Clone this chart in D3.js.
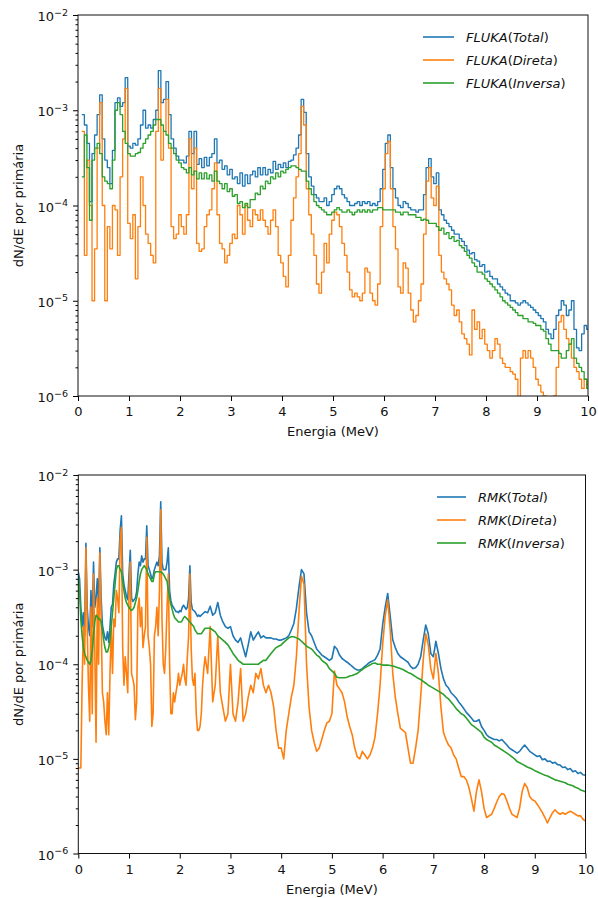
<!DOCTYPE html>
<html>
<head>
<meta charset="utf-8">
<script src="https://cdn.jsdelivr.net/npm/d3@7"></script>
<style>
  body { margin: 0; background: #fff; }
  svg { display: block; font-family: 'DejaVu Sans', sans-serif; }
</style>
</head>
<body>
<svg></svg>
<script>
// ---- FLUKA histogram: 199 bins of 0.05 MeV, centres 0.10 ... 10.00 MeV
let flukaBinStart = 0.075
let flukaBinWidth = 0.05

let flukaTotal = [
  9e-4, 7e-4, 4.5e-4, 1.1e-4, 3.5e-4, 5.5e-4, 9e-4, 1.45e-3, 5e-4, 3e-4,
  2.5e-4, 1.7e-4, 3.8e-4, 1.2e-3, 1.35e-3, 1.1e-3, 1.2e-3, 2.2e-3, 4.2e-4, 4e-4,
  4.5e-4, 4.3e-4, 5e-4, 7e-4, 1e-3, 6.5e-4, 7e-4, 6.5e-4, 8e-4, 1e-3,
  2.6e-3, 1.2e-3, 1.3e-3, 2e-3, 9e-4, 5e-4, 4e-4, 3.3e-4, 3e-4, 3e-4,
  2.8e-4, 3.3e-4, 6e-4, 3.5e-4, 6e-4, 2.7e-4, 3.1e-4, 2.5e-4, 3.2e-4, 2.6e-4,
  3.2e-4, 3.5e-4, 5e-4, 2.8e-4, 3e-4, 2.4e-4, 2.6e-4, 2.1e-4, 2.4e-4, 1.9e-4,
  2e-4, 1.7e-4, 2.2e-4, 1.6e-4, 2.1e-4, 1.7e-4, 2.1e-4, 2.3e-4, 2e-4, 2.5e-4,
  2.1e-4, 2.5e-4, 2.1e-4, 2.4e-4, 2.2e-4, 2.9e-4, 2.4e-4, 2.7e-4, 2.5e-4, 2.8e-4,
  2.5e-4, 2.9e-4, 3e-4, 3.4e-4, 4e-4, 5.5e-4, 1.3e-3, 9.5e-4, 3.5e-4, 2e-4,
  1.6e-4, 1.3e-4, 1.2e-4, 1.1e-4, 1.1e-4, 1.2e-4, 1e-4, 1.1e-4, 1.3e-4, 1.5e-4,
  1.6e-4, 1.5e-4, 1.3e-4, 1.2e-4, 1.1e-4, 1e-4, 1e-4, 1.05e-4, 1.1e-4, 1e-4,
  1.1e-4, 1.05e-4, 1.1e-4, 1e-4, 1.05e-4, 1e-4, 1.1e-4, 1.5e-4, 2.4e-4, 4.5e-4,
  5.5e-4, 2.5e-4, 1.5e-4, 1.2e-4, 1e-4, 9.5e-5, 1.1e-4, 1.05e-4, 9.5e-5, 9e-5,
  9e-5, 8.5e-5, 9e-5, 9e-5, 1.3e-4, 2.5e-4, 3.1e-4, 2e-4, 1.7e-4, 2.2e-4,
  9e-5, 8e-5, 7e-5, 6.5e-5, 6e-5, 5.5e-5, 5e-5, 5e-5, 4.5e-5, 4.2e-5,
  3.8e-5, 3.4e-5, 3.1e-5, 3.2e-5, 2.7e-5, 2.6e-5, 2.3e-5, 2.4e-5, 2e-5, 2.05e-5,
  1.8e-5, 1.7e-5, 1.7e-5, 1.5e-5, 1.4e-5, 1.3e-5, 1.2e-5, 1.15e-5, 1e-5, 1e-5,
  9.5e-6, 9e-6, 9.5e-6, 1e-5, 9.5e-6, 9e-6, 8.5e-6, 8e-6, 7.5e-6, 7e-6,
  6.5e-6, 6e-6, 5e-6, 4.5e-6, 4e-6, 5e-6, 7e-6, 8e-6, 1e-5, 9e-6,
  7e-6, 8e-6, 1e-5, 5e-6, 3.2e-6, 3e-6, 4.5e-6, 5.5e-6, 5e-6
]

let flukaDireta = [
  6e-4, 3e-5, 3e-4, 1e-4, 1e-5, 3.5e-5, 4e-4, 1.2e-3, 1e-4, 1e-5,
  6e-5, 3.5e-5, 1e-4, 9e-5, 3e-5, 2e-4, 5e-4, 1.7e-3, 6.5e-5, 4.5e-5,
  8e-5, 1.7e-5, 6e-5, 2e-4, 1e-4, 5e-5, 4e-5, 3e-5, 2.5e-5, 6e-4,
  1.7e-3, 3e-4, 6e-4, 1.3e-3, 4e-4, 6e-5, 4.5e-5, 5e-5, 8e-5, 6e-5,
  5e-5, 8e-5, 5e-4, 1.5e-4, 4e-4, 4e-5, 3.3e-5, 3.5e-5, 6e-5, 8e-5,
  9e-5, 1.5e-4, 2.8e-4, 8e-5, 4e-5, 3.5e-5, 2.5e-5, 3e-5, 4e-5, 5e-5,
  4.5e-5, 1e-4, 8e-5, 5e-5, 1e-4, 7e-5, 6e-5, 9e-5, 8e-5, 7e-5,
  9e-5, 7e-5, 6e-5, 5e-5, 7e-5, 9e-5, 6e-5, 3e-5, 2.5e-5, 1.8e-5,
  1.4e-5, 3e-5, 7e-5, 1.2e-4, 2e-4, 3.5e-4, 1.1e-3, 7e-4, 1.5e-4, 8e-5,
  5e-5, 3e-5, 1.5e-5, 1.2e-5, 2e-5, 4e-5, 2.5e-5, 5e-5, 7e-5, 8.5e-5,
  8e-5, 6e-5, 4e-5, 3e-5, 2e-5, 1.3e-5, 1.1e-5, 1.2e-5, 1.1e-5, 1e-5,
  1.2e-5, 2.2e-5, 2e-5, 1.2e-5, 1e-5, 9e-6, 1.5e-5, 6e-5, 1.5e-4, 3.5e-4,
  4.7e-4, 1.5e-4, 6e-5, 3.5e-5, 1.4e-5, 1.2e-5, 2.5e-5, 2.2e-5, 1.2e-5, 8e-6,
  6e-6, 7e-6, 1e-5, 1.5e-5, 5e-5, 1.8e-4, 2.5e-4, 1.2e-4, 1e-4, 1.6e-4,
  3e-5, 2e-5, 1.7e-5, 1.5e-5, 1.3e-5, 9e-6, 7e-6, 8e-6, 6e-6, 4.5e-6,
  4e-6, 3.5e-6, 2.7e-6, 8e-6, 5e-6, 6e-6, 4e-6, 5e-6, 3.5e-6, 3e-6,
  2.5e-6, 3e-6, 4e-6, 3.5e-6, 2.5e-6, 2.2e-6, 2e-6, 2e-6, 1.8e-6, 1.7e-6,
  1.5e-6, 9e-7, 2.5e-6, 3e-6, 2.5e-6, 3e-6, 2.5e-6, 2e-6, 1.5e-6, 1.3e-6,
  1.1e-6, 1e-6, 9e-7, 8e-7, 8e-7, 1e-6, 2e-6, 6e-6, 7e-6, 5e-6,
  4e-6, 3.5e-6, 2.5e-6, 2e-6, 1.8e-6, 1.5e-6, 1.2e-6, 1.5e-6, 1.3e-6
]

let flukaInversa = [
  2e-4, 5.5e-4, 2.5e-4, 7e-5, 3e-4, 4e-4, 4.5e-4, 3.5e-4, 2e-4, 1.8e-4,
  1.7e-4, 1.5e-4, 3e-4, 1e-3, 1.2e-3, 9e-4, 6e-4, 4.5e-4, 3.5e-4, 3.3e-4,
  3.3e-4, 3.5e-4, 3.6e-4, 4e-4, 4.5e-4, 5e-4, 5.5e-4, 6e-4, 7e-4, 8e-4,
  8e-4, 7e-4, 6e-4, 5.5e-4, 4.5e-4, 4e-4, 3.5e-4, 3e-4, 2.8e-4, 2.5e-4,
  2.4e-4, 2.2e-4, 2.5e-4, 2.1e-4, 2.3e-4, 1.9e-4, 2.2e-4, 1.9e-4, 2.2e-4, 1.9e-4,
  2.1e-4, 1.8e-4, 2.3e-4, 1.8e-4, 1.7e-4, 1.5e-4, 1.7e-4, 1.4e-4, 1.5e-4, 1.25e-4,
  1.3e-4, 1.05e-4, 1.1e-4, 9.5e-5, 1.05e-4, 9.5e-5, 1.15e-4, 1.15e-4, 1.35e-4, 1.3e-4,
  1.6e-4, 1.5e-4, 1.8e-4, 1.7e-4, 2e-4, 1.9e-4, 2.2e-4, 2e-4, 2.3e-4, 2.2e-4,
  2.4e-4, 2.5e-4, 2.6e-4, 2.6e-4, 2.5e-4, 2.4e-4, 2.3e-4, 2.3e-4, 1.8e-4, 1.5e-4,
  1.3e-4, 1.1e-4, 1e-4, 9.5e-5, 9e-5, 8.5e-5, 8e-5, 8e-5, 8.5e-5, 9e-5,
  9.5e-5, 9e-5, 8.5e-5, 8.5e-5, 9e-5, 8.5e-5, 8e-5, 8.5e-5, 9e-5, 8.5e-5,
  9e-5, 8.5e-5, 9e-5, 8.5e-5, 9e-5, 9e-5, 9.5e-5, 9.5e-5, 9e-5, 9e-5,
  9e-5, 9e-5, 9e-5, 8.5e-5, 8.5e-5, 8e-5, 8.5e-5, 8.5e-5, 8e-5, 8e-5,
  8e-5, 7.5e-5, 7.5e-5, 7e-5, 7.2e-5, 7e-5, 6.5e-5, 6.5e-5, 6.5e-5, 6e-5,
  5.5e-5, 5.8e-5, 5e-5, 5.2e-5, 4.5e-5, 4.7e-5, 4.2e-5, 4.3e-5, 3.8e-5, 3.6e-5,
  3.3e-5, 3e-5, 2.8e-5, 2.5e-5, 2.3e-5, 2e-5, 2e-5, 1.9e-5, 1.7e-5, 1.6e-5,
  1.5e-5, 1.4e-5, 1.3e-5, 1.2e-5, 1.1e-5, 1e-5, 9.5e-6, 9e-6, 8.5e-6, 8e-6,
  7.5e-6, 7e-6, 7e-6, 6.5e-6, 6.5e-6, 6e-6, 6e-6, 5.8e-6, 5.5e-6, 5.5e-6,
  5e-6, 4.8e-6, 4e-6, 3.5e-6, 3e-6, 3e-6, 3e-6, 2.8e-6, 2.5e-6, 2.5e-6,
  3e-6, 3.5e-6, 4e-6, 2.5e-6, 2.2e-6, 2e-6, 1.8e-6, 1.5e-6, 1.2e-6
]

// ---- RMK: 100 points every 0.025 MeV (0 ... 2.475), then 151 points every 0.05 MeV (2.5 ... 10)
let rmkFineCount = 100
let rmkFineStep = 0.025
let rmkCoarseCount = 151
let rmkCoarseStep = 0.05

let rmkTotal = [
  9.5e-4, 8e-4, 4e-4, 2.5e-4, 3.5e-4, 2e-4, 1.9e-3, 4e-4, 2.5e-4, 2e-4,
  6e-4, 2.5e-4, 1.2e-3, 4e-4, 5e-4, 8e-4, 4e-4, 1.7e-3, 5e-4, 2.6e-4,
  2.2e-4, 1.9e-4, 1.8e-4, 2.2e-4, 1.7e-4, 2.5e-4, 4e-4, 4.3e-4, 7e-4, 9e-4,
  1.2e-3, 1.3e-3, 1.3e-3, 2.6e-3, 3.7e-3, 9e-4, 7e-4, 6e-4, 5.2e-4, 4.8e-4,
  9e-4, 1.6e-3, 5e-4, 4.6e-4, 4.8e-4, 5e-4, 5.8e-4, 9e-4, 1.2e-3, 1.1e-3,
  1.4e-3, 1.2e-3, 1.3e-3, 1.3e-3, 2.9e-3, 1.1e-3, 1e-3, 9e-4, 8e-4, 8.5e-4,
  1e-3, 1.1e-3, 1.2e-3, 1.1e-3, 1.4e-3, 5.2e-3, 1.2e-3, 1e-3, 1e-3, 1e-3,
  1.2e-3, 1.7e-3, 6e-4, 4.7e-4, 4.2e-4, 4e-4, 3.8e-4, 3.6e-4, 3.6e-4, 3.5e-4,
  3.7e-4, 3.6e-4, 4e-4, 4.2e-4, 4e-4, 3.8e-4, 4e-4, 5e-4, 1.1e-3, 4.5e-4,
  3.8e-4, 3.7e-4, 3.6e-4, 3.4e-4, 3.2e-4, 3.3e-4, 3.2e-4, 3.3e-4, 3.4e-4, 3.5e-4,
  // 2.5 MeV onwards
  3.6e-4, 3.5e-4, 4.1e-4, 3.3e-4, 3.5e-4, 4.5e-4, 3.3e-4, 2.8e-4, 2.5e-4, 2.4e-4,
  2.5e-4, 2e-4, 1.8e-4, 1.7e-4, 1.9e-4, 1.5e-4, 1.2e-4, 1.6e-4, 2.2e-4, 1.8e-4,
  2e-4, 2.2e-4, 1.9e-4, 2e-4, 1.9e-4, 1.9e-4, 1.9e-4, 1.85e-4, 1.85e-4, 1.8e-4,
  1.8e-4, 1.85e-4, 1.9e-4, 2e-4, 2.3e-4, 2.7e-4, 3.9e-4, 6.5e-4, 1e-3, 9e-4,
  3.5e-4, 2.2e-4, 2e-4, 1.7e-4, 1.45e-4, 1.35e-4, 1.25e-4, 1.2e-4, 1.15e-4, 1.1e-4,
  1.15e-4, 1.55e-4, 1.45e-4, 1.25e-4, 1.15e-4, 1.1e-4, 1.05e-4, 1e-4, 9.5e-5, 9e-5,
  8.7e-5, 8.7e-5, 9e-5, 9.5e-5, 1e-4, 1.05e-4, 1.08e-4, 1.12e-4, 1.25e-4, 1.45e-4,
  2.6e-4, 4e-4, 5.6e-4, 3.2e-4, 1.8e-4, 1.5e-4, 1.3e-4, 1.2e-4, 1.15e-4, 1.1e-4,
  1.05e-4, 9.5e-5, 9e-5, 9.2e-5, 1e-4, 1.2e-4, 1.8e-4, 2.6e-4, 2.1e-4, 1.3e-4,
  1.2e-4, 1.75e-4, 1.3e-4, 9e-5, 7e-5, 6e-5, 5.6e-5, 5e-5, 4.7e-5, 4.4e-5,
  4e-5, 3.7e-5, 3.4e-5, 3.1e-5, 2.9e-5, 2.7e-5, 2.5e-5, 2.5e-5, 2.6e-5, 2.2e-5,
  2e-5, 1.8e-5, 1.7e-5, 1.65e-5, 1.6e-5, 1.6e-5, 1.55e-5, 1.6e-5, 1.5e-5, 1.4e-5,
  1.3e-5, 1.25e-5, 1.2e-5, 1.15e-5, 1.2e-5, 1.3e-5, 1.4e-5, 1.3e-5, 1.2e-5, 1.15e-5,
  1.1e-5, 1.06e-5, 1.08e-5, 9.8e-6, 1e-5, 9.4e-6, 9.5e-6, 9e-6, 9.2e-6, 8.7e-6,
  8.6e-6, 8.1e-6, 8.2e-6, 7.7e-6, 7.9e-6, 7.3e-6, 7.5e-6, 7e-6, 7.2e-6, 6.8e-6,
  6.7e-6
]

let rmkDireta = [
  8e-6, 8e-6, 8e-6, 6e-5, 2.5e-4, 1e-4, 1.7e-3, 2.5e-4, 6e-5, 2.5e-5,
  4e-4, 3e-5, 9e-4, 1.5e-4, 1.5e-5, 5e-4, 1e-4, 1.5e-3, 3e-4, 5e-5,
  4e-5, 2.5e-5, 1.8e-5, 5e-5, 1.8e-5, 8e-5, 2.5e-4, 8e-5, 3e-4, 2.5e-4,
  6e-4, 5e-4, 3.5e-4, 2e-3, 2.8e-3, 1.5e-4, 6e-5, 1.2e-4, 8e-5, 5e-5,
  6e-4, 1.2e-3, 8e-5, 7e-5, 6e-5, 2.6e-5, 4e-5, 4e-4, 5e-4, 2.5e-4,
  4e-4, 1.5e-4, 2e-4, 2.5e-4, 2.2e-3, 2e-4, 1.5e-4, 1e-4, 2.2e-5, 3e-5,
  2e-4, 2.5e-4, 4e-4, 2e-4, 6e-4, 4.3e-3, 3e-4, 1e-4, 8e-5, 1.5e-4,
  4e-4, 9e-4, 1e-4, 3e-5, 3e-5, 5e-5, 4e-5, 5e-5, 6e-5, 8e-5,
  6e-5, 7e-5, 8e-5, 1e-4, 7e-5, 6e-5, 1.2e-4, 2e-4, 9e-4, 1.5e-4,
  7e-5, 6e-5, 8e-5, 3e-5, 2e-5, 2e-5, 2.2e-5, 3e-5, 6e-5, 9e-5,
  // 2.5 MeV onwards
  1.2e-4, 8e-5, 2.5e-4, 4e-5, 6e-5, 2e-4, 5e-5, 3.5e-5, 2.5e-5, 3e-5,
  1e-4, 3e-5, 2.5e-5, 4e-5, 9e-5, 2.5e-5, 3e-5, 4.5e-5, 6e-5, 5e-5,
  8e-5, 7e-5, 9e-5, 6e-5, 5e-5, 6e-5, 5e-5, 3.6e-5, 2e-5, 1.3e-5,
  1.3e-5, 1e-5, 2e-5, 3e-5, 4.5e-5, 6e-5, 1.2e-4, 3.5e-4, 8.5e-4, 7e-4,
  1e-4, 3.5e-5, 2e-5, 1.5e-5, 1.2e-5, 1.3e-5, 1.6e-5, 2e-5, 2.4e-5, 2.5e-5,
  3e-5, 8.5e-5, 6e-5, 5.5e-5, 5e-5, 4e-5, 2.8e-5, 2.2e-5, 1.8e-5, 1.3e-5,
  1.05e-5, 1e-5, 1.2e-5, 1.1e-5, 1e-5, 1.1e-5, 1.3e-5, 1.7e-5, 3e-5, 6e-5,
  1.6e-4, 3.2e-4, 4.8e-4, 2.3e-4, 8e-5, 4.5e-5, 3e-5, 2.1e-5, 2e-5, 1.9e-5,
  1.3e-5, 9e-6, 9e-6, 1.3e-5, 2e-5, 4.5e-5, 1.1e-4, 2.1e-4, 1.6e-4, 9e-5,
  7e-5, 1.3e-4, 8e-5, 3.5e-5, 1.9e-5, 1.6e-5, 1.4e-5, 1.3e-5, 1.1e-5, 1e-5,
  8e-6, 6.5e-6, 6.5e-6, 6e-6, 5e-6, 3.8e-6, 2.8e-6, 4.5e-6, 6e-6, 4.5e-6,
  3e-6, 2.4e-6, 2.5e-6, 2.6e-6, 3e-6, 3.5e-6, 4e-6, 4.3e-6, 4.2e-6, 3.6e-6,
  3e-6, 2.6e-6, 2.5e-6, 2.4e-6, 3e-6, 4.5e-6, 5.5e-6, 5e-6, 4e-6, 3.7e-6,
  3.6e-6, 3.3e-6, 3e-6, 2.7e-6, 2.4e-6, 2.1e-6, 2.4e-6, 2.7e-6, 2.9e-6, 2.7e-6,
  2.6e-6, 2.7e-6, 2.6e-6, 2.7e-6, 2.8e-6, 2.7e-6, 2.6e-6, 2.5e-6, 2.5e-6, 2.3e-6,
  2.2e-6
]

let rmkInversa = [
  8.5e-4, 6e-4, 3e-4, 2e-4, 1.5e-4, 1.3e-4, 1.2e-4, 1.1e-4, 1.05e-4, 1e-4,
  1.1e-4, 1.4e-4, 2e-4, 2.8e-4, 3.3e-4, 3.2e-4, 3e-4, 3e-4, 2.8e-4, 2.3e-4,
  1.8e-4, 1.5e-4, 1.35e-4, 1.35e-4, 1.5e-4, 1.8e-4, 2.5e-4, 3.5e-4, 5e-4, 7e-4,
  1e-3, 1.1e-3, 1.1e-3, 1e-3, 9.5e-4, 7.5e-4, 6e-4, 5e-4, 4.5e-4, 4.2e-4,
  4e-4, 3.8e-4, 3.7e-4, 3.8e-4, 4e-4, 4.5e-4, 5e-4, 6e-4, 7.5e-4, 9e-4,
  1e-3, 1.05e-3, 1.1e-3, 1.05e-3, 1e-3, 9e-4, 8.5e-4, 8e-4, 7.5e-4, 7.5e-4,
  9e-4, 9.5e-4, 9.5e-4, 9.5e-4, 9.5e-4, 9.5e-4, 9.3e-4, 9e-4, 8.5e-4, 8e-4,
  7.5e-4, 6e-4, 5e-4, 4.3e-4, 3.8e-4, 3.4e-4, 3.1e-4, 3e-4, 2.9e-4, 2.8e-4,
  2.8e-4, 2.8e-4, 2.9e-4, 3.1e-4, 3.2e-4, 3.1e-4, 3e-4, 2.9e-4, 2.8e-4, 2.7e-4,
  2.6e-4, 2.5e-4, 2.3e-4, 2.2e-4, 2.1e-4, 2.1e-4, 2.1e-4, 2.1e-4, 2.2e-4, 2.3e-4,
  // 2.5 MeV onwards
  2.4e-4, 2.4e-4, 2.4e-4, 2.3e-4, 2.2e-4, 2e-4, 1.9e-4, 1.8e-4, 1.7e-4, 1.6e-4,
  1.45e-4, 1.3e-4, 1.2e-4, 1.1e-4, 1.05e-4, 1e-4, 1e-4, 1e-4, 1e-4, 1e-4,
  1e-4, 1e-4, 1.05e-4, 1.1e-4, 1.1e-4, 1.2e-4, 1.3e-4, 1.4e-4, 1.5e-4, 1.55e-4,
  1.6e-4, 1.7e-4, 1.8e-4, 1.9e-4, 1.95e-4, 1.95e-4, 1.9e-4, 1.85e-4, 1.75e-4, 1.65e-4,
  1.55e-4, 1.5e-4, 1.45e-4, 1.35e-4, 1.25e-4, 1.2e-4, 1.1e-4, 1.05e-4, 1e-4, 9e-5,
  8.5e-5, 8e-5, 7.3e-5, 7.2e-5, 7.2e-5, 7.2e-5, 7.3e-5, 7.5e-5, 7.6e-5, 7.8e-5,
  8e-5, 8.4e-5, 8.8e-5, 9.2e-5, 9.5e-5, 9.8e-5, 1.02e-4, 1.03e-4, 1e-4, 1e-4,
  9.8e-5, 9.8e-5, 9.8e-5, 9.7e-5, 9.6e-5, 9.4e-5, 9.2e-5, 9e-5, 8.8e-5, 8.5e-5,
  8.2e-5, 8e-5, 7.7e-5, 7.4e-5, 7.1e-5, 6.9e-5, 6.6e-5, 6.3e-5, 6e-5, 5.8e-5,
  5.6e-5, 5.4e-5, 5.2e-5, 5e-5, 4.8e-5, 4.5e-5, 4.3e-5, 4e-5, 3.7e-5, 3.4e-5,
  3.2e-5, 3e-5, 2.9e-5, 2.7e-5, 2.5e-5, 2.3e-5, 2.2e-5, 2.1e-5, 2e-5, 1.9e-5,
  1.7e-5, 1.6e-5, 1.55e-5, 1.5e-5, 1.4e-5, 1.35e-5, 1.3e-5, 1.25e-5, 1.2e-5, 1.15e-5,
  1.1e-5, 1.05e-5, 1e-5, 9.4e-6, 9.1e-6, 8.8e-6, 8.5e-6, 8.2e-6, 8e-6, 7.8e-6,
  7.5e-6, 7.3e-6, 7.1e-6, 6.9e-6, 6.7e-6, 6.6e-6, 6.4e-6, 6.2e-6, 6e-6, 5.9e-6,
  5.8e-6, 5.7e-6, 5.6e-6, 5.4e-6, 5.3e-6, 5.2e-6, 5e-6, 4.9e-6, 4.7e-6, 4.6e-6,
  4.5e-6
]

let xTicks = [0, 1, 2, 3, 4, 5, 6, 7, 8, 9, 10]
let yDecades = [-6, -5, -4, -3, -2]
let seriesNames = ['Total', 'Direta', 'Inversa']
let colors = ['#1f77b4', '#ff7f0e', '#2ca02c']

let width = 598
let height = 898

let svg = d3.select('svg')
    .attr('width', width)
    .attr('height', height)

// x positions of the data
let flukaEdges = d3.range(flukaTotal.length + 1).map(i => flukaBinStart + i * flukaBinWidth)
let rmkEnergy = d3.range(rmkFineCount).map(i => i * rmkFineStep)
    .concat(d3.range(rmkCoarseCount).map(i => 2.5 + i * rmkCoarseStep))

let stepPoints = (values) => {
    return flukaEdges.map((e, i) => [e, values[Math.min(i, values.length - 1)]])
}
let linePoints = (values) => {
    return values.map((v, i) => [rmkEnergy[i], v])
}

let panels = [
    {
        id: 'fluka', prefix: 'FLUKA',
        left: 78, right: 588, top: 15, bottom: 396,
        curve: d3.curveStepAfter, strokeWidth: 1.3,
        series: [stepPoints(flukaTotal), stepPoints(flukaDireta), stepPoints(flukaInversa)],
        legend: { x1: 423, x2: 454, tx: 466, y0: 37, dy: 23 }
    },
    {
        id: 'rmk', prefix: 'RMK',
        left: 78.3, right: 585.5, top: 475, bottom: 853.5,
        curve: d3.curveLinear, strokeWidth: 1.6,
        series: [linePoints(rmkTotal), linePoints(rmkDireta), linePoints(rmkInversa)],
        legend: { x1: 437, x2: 466, tx: 478, y0: 497, dy: 23 }
    }
]

let drawPanel = (p) => {
    let g = svg.append('g').attr('id', p.id)

    let xScale = d3.scaleLinear()
                   .domain([0, 10])
                   .range([p.left, p.right])
    let yScale = d3.scaleLog()
                   .domain([1e-6, 1e-2])
                   .range([p.bottom, p.top])

    g.append('clipPath')
     .attr('id', p.id + '-clip')
     .append('rect')
     .attr('x', p.left)
     .attr('y', p.top)
     .attr('width', p.right - p.left)
     .attr('height', p.bottom - p.top)

    let line = d3.line()
                 .x(d => xScale(d[0]))
                 .y(d => yScale(d[1]))
                 .curve(p.curve)

    g.append('g')
     .attr('clip-path', 'url(#' + p.id + '-clip)')
     .selectAll('path')
     .data(p.series)
     .enter()
     .append('path')
     .attr('d', d => line(d))
     .attr('fill', 'none')
     .attr('stroke', (d, i) => colors[i])
     .attr('stroke-width', p.strokeWidth)
     .attr('stroke-linejoin', 'round')

    // x axis
    let xAxis = d3.axisBottom(xScale)
                  .tickValues(xTicks)
                  .tickSize(5)
                  .tickPadding(6)
                  .tickFormat(d3.format('d'))
    let gx = g.append('g')
              .attr('transform', 'translate(0, ' + p.bottom + ')')
              .call(xAxis)
    gx.select('.domain').remove()
    gx.attr('font-size', 13).attr('font-family', null)
    gx.selectAll('text').attr('fill', '#111')

    // y axis, major and minor ticks
    let majors = yDecades.map(k => Math.pow(10, k))
    let minors = []
    yDecades.slice(0, -1).forEach(k => {
        d3.range(2, 10).forEach(m => minors.push(m * Math.pow(10, k)))
    })
    let gyMinor = g.append('g')
                   .attr('transform', 'translate(' + p.left + ', 0)')
                   .call(d3.axisLeft(yScale).tickValues(minors).tickSize(2.5).tickFormat(''))
    gyMinor.select('.domain').remove()
    let gy = g.append('g')
              .attr('transform', 'translate(' + p.left + ', 0)')
              .call(d3.axisLeft(yScale).tickValues(majors).tickSize(5).tickFormat(''))
    gy.select('.domain').remove()

    yDecades.forEach(k => {
        let t = g.append('text')
                 .attr('x', p.left - 10)
                 .attr('y', yScale(Math.pow(10, k)) + 6)
                 .attr('text-anchor', 'end')
                 .attr('font-size', 13)
                 .attr('fill', '#111')
        t.append('tspan').text('10')
        t.append('tspan')
         .attr('font-size', 9.5)
         .attr('dy', -5.5)
         .text('\u2212' + Math.abs(k))
    })

    // frame
    g.append('rect')
     .attr('x', p.left)
     .attr('y', p.top)
     .attr('width', p.right - p.left)
     .attr('height', p.bottom - p.top)
     .attr('fill', 'none')
     .attr('stroke', '#111')
     .attr('stroke-width', 1)

    // axis labels
    g.append('text')
     .attr('x', (p.left + p.right) / 2)
     .attr('y', p.bottom + 40)
     .attr('text-anchor', 'middle')
     .attr('font-size', 13)
     .attr('fill', '#111')
     .text('Energia (MeV)')

    g.append('text')
     .attr('transform', 'translate(23, ' + (p.top + p.bottom) / 2 + ') rotate(-90)')
     .attr('text-anchor', 'middle')
     .attr('font-size', 13)
     .attr('fill', '#111')
     .text('dN/dE por primária')

    // legend
    seriesNames.forEach((name, i) => {
        let y = p.legend.y0 + i * p.legend.dy
        g.append('line')
         .attr('x1', p.legend.x1)
         .attr('x2', p.legend.x2)
         .attr('y1', y)
         .attr('y2', y)
         .attr('stroke', colors[i])
         .attr('stroke-width', 1.6)
        let t = g.append('text')
                 .attr('x', p.legend.tx)
                 .attr('y', y + 4.5)
                 .attr('font-size', 13)
                 .attr('fill', '#111')
        t.append('tspan').attr('font-style', 'italic').text(p.prefix)
        t.append('tspan').text('(')
        t.append('tspan').attr('font-style', 'italic').text(name)
        t.append('tspan').text(')')
    })
}

panels.forEach(p => drawPanel(p))
</script>
</body>
</html>
